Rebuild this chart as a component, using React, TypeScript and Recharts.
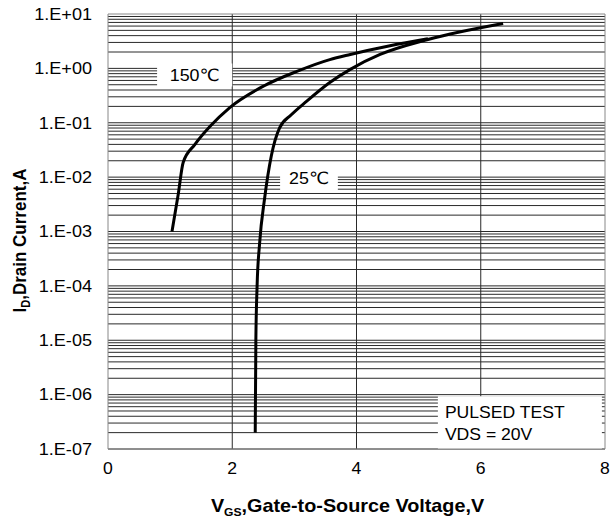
import React from 'react';
import {
  ComposedChart,
  Line,
  XAxis,
  YAxis,
  CartesianGrid,
  ReferenceArea,
  ReferenceLine,
  Label,
} from 'recharts';

// ---- data ----
const vgs150 = [1.03, 1.13, 1.21, 1.4, 1.64, 1.96, 2.5, 3.04, 3.57, 3.9, 4.54, 5.15];
const id150 = [1e-3, 4.8e-3, 1.86e-2, 4e-2, 8.5e-2, 0.19, 0.47, 0.88, 1.45, 1.8, 2.6, 3.5];

const vgs25 = [2.37, 2.38, 2.4, 2.44, 2.52, 2.63, 2.76, 2.95, 3.2, 3.57, 3.9, 4.38, 5.15, 6.36];
const id25 = [2e-7, 1e-5, 1e-4, 6e-4, 4e-3, 2.5e-2, 8e-2, 0.14, 0.25, 0.55, 0.96, 1.8, 3.4, 6.7];

const xTicks = [0, 2, 4, 6, 8];
const yTicks = [1e-7, 1e-6, 1e-5, 1e-4, 1e-3, 1e-2, 1e-1, 1, 10];
const yTickLabels = ['1.E-07', '1.E-06', '1.E-05', '1.E-04', '1.E-03', '1.E-02', '1.E-01', '1.E+00', '1.E+01'];

const gridMultipliers = [1, 2, 3, 4, 5, 6, 7, 8, 9];
const gridDecades = [-7, -6, -5, -4, -3, -2, -1, 0];
const gridValues = gridDecades.flatMap((d) => gridMultipliers.map((m) => m * Math.pow(10, d)));
const verticalGrid = [2, 4, 6];

const data150 = vgs150.map((v, i) => ({ x: v, y: id150[i] }));
const data25 = vgs25.map((v, i) => ({ x: v, y: id25[i] }));

const FONT = '"Liberation Sans", Arial, "DejaVu Sans", sans-serif';
const SX = 1.1;

const YTick = (props: any) => {
  const { x, y, payload } = props;
  const i = yTicks.findIndex((t) => Math.abs(Math.log10(t) - Math.log10(payload.value)) < 1e-6);
  return (
    <g transform={`translate(${x},${y})`}>
      <text transform={`scale(1.13,1)`} textAnchor="end" dy="0.36em" fontSize={16} fontFamily={FONT} fill="#000">
        {i >= 0 ? yTickLabels[i] : ''}
      </text>
    </g>
  );
};

const XTick = (props: any) => {
  const { x, y, payload } = props;
  return (
    <g transform={`translate(${x},${y})`}>
      <text transform={`scale(${SX},1)`} textAnchor="middle" dy="0.71em" fontSize={16} fontFamily={FONT} fill="#000">
        {payload.value}
      </text>
    </g>
  );
};

const boxLabel = (text: string) => (p: any) => {
  const vb = p.viewBox || {};
  const cx = vb.x + vb.width / 2;
  const cy = vb.y + vb.height / 2;
  return (
    <g transform={`translate(${cx},${cy})`}>
      <text transform={`scale(1.05,1)`} textAnchor="middle" dy="0.36em" fontSize={17} fontFamily={FONT} fill="#000">
        {text}
      </text>
    </g>
  );
};

const pulsedLabel = (p: any) => {
  const vb = p.viewBox || {};
  return (
    <g transform={`translate(${vb.x + 7},${vb.y})`}>
      <text transform={`scale(${SX},1)`} fontSize={16} fontFamily={FONT} fill="#000">
        <tspan x={0} y={22}>PULSED TEST</tspan>
        <tspan x={0} y={44}>VDS = 20V</tspan>
      </text>
    </g>
  );
};

const xTitle = (p: any) => {
  const vb = p.viewBox || {};
  const cx = vb.x + vb.width / 2 - 9;
  const by = vb.y + 63;
  return (
    <g transform={`translate(${cx},${by})`}>
      <text transform={`scale(${SX},1)`} textAnchor="middle" fontSize={18} fontWeight="bold" fontFamily={FONT} fill="#000">
        <tspan>V</tspan>
        <tspan fontSize={11} dy={4}>GS</tspan>
        <tspan dy={-4}>,Gate-to-Source Voltage,V</tspan>
      </text>
    </g>
  );
};

const yTitle = (p: any) => {
  const vb = p.viewBox || {};
  const cy = vb.y + vb.height / 2 + 9;
  return (
    <g transform={`translate(26,${cy}) scale(${SX},1) rotate(-90)`}>
      <text textAnchor="middle" fontSize={17} fontWeight="bold" fontFamily={FONT} fill="#000">
        <tspan>I</tspan>
        <tspan fontSize={11} dy={4}>D</tspan>
        <tspan dy={-4}>,Drain Current,A</tspan>
      </text>
    </g>
  );
};

const applyScale = (s: any, v: number): number | null => {
  if (!s) return null;
  if (typeof s === 'function') return s(v);
  if (typeof s.map === 'function') return s.map(v);
  if (typeof s.scale === 'function') return s.scale(v);
  return null;
};

const Y_MIN = 1e-7;
const Y_MAX = 10;

const hGen = (props: any) => {
  const s = props?.yAxis?.scale;
  const off = props?.offset || {};
  return gridValues.map((v) => {
    const r = applyScale(s, v);
    if (typeof r === 'number' && isFinite(r)) return r;
    const t = (Math.log10(v) - Math.log10(Y_MIN)) / (Math.log10(Y_MAX) - Math.log10(Y_MIN));
    return off.top + off.height * (1 - t);
  });
};
const vGen = (props: any) => {
  const s = props?.xAxis?.scale;
  const off = props?.offset || {};
  return verticalGrid.map((v) => {
    const r = applyScale(s, v);
    if (typeof r === 'number' && isFinite(r)) return r;
    return off.left + (off.width * v) / 8;
  });
};

export default function App() {
  return (
    <div style={{ position: 'absolute', left: 0, top: 0, width: 611, height: 523, background: '#fff' }}>
      <ComposedChart width={611} height={523} margin={{ top: 14, right: 6, bottom: 0, left: 0 }}>
        <CartesianGrid
          horizontalCoordinatesGenerator={hGen}
          verticalCoordinatesGenerator={vGen}
          stroke="#2a2a2a"
          strokeWidth={1}
        />
        <XAxis
          type="number"
          dataKey="x"
          domain={[0, 8]}
          ticks={xTicks}
          allowDataOverflow
          height={74}
          axisLine={{ stroke: '#888' }}
          tickLine={{ stroke: 'none' }}
          tickSize={12}
          tickMargin={2}
          tick={<XTick />}
        >
          <Label content={xTitle} />
        </XAxis>
        <YAxis
          type="number"
          dataKey="y"
          scale="log"
          domain={[Y_MIN, Y_MAX]}
          ticks={yTicks}
          allowDataOverflow
          width={108}
          axisLine={{ stroke: '#888' }}
          tickLine={{ stroke: 'none' }}
          tickSize={14}
          tickMargin={2}
          tick={<YTick />}
        >
          <Label content={yTitle} />
        </YAxis>
        <ReferenceLine y={10} stroke="#888" />
        <ReferenceLine x={8} stroke="#888" />
        <ReferenceArea x1={0.79} x2={2.0} y1={0.464} y2={1.23} fill="#fff" fillOpacity={1} stroke="none" label={boxLabel('150℃')} />
        <ReferenceArea x1={2.77} x2={3.7} y1={0.00546} y2={0.0171} fill="#fff" fillOpacity={1} stroke="none" label={boxLabel('25℃')} />
        <ReferenceArea x1={5.31} x2={7.95} y1={1e-7} y2={9.3e-7} fill="#fff" fillOpacity={1} stroke="none" label={pulsedLabel} />
        <Line data={data150} dataKey="y" type="monotone" stroke="#000" strokeWidth={3} dot={false} isAnimationActive={false} />
        <Line data={data25} dataKey="y" type="monotone" stroke="#000" strokeWidth={3} dot={false} isAnimationActive={false} />
      </ComposedChart>
    </div>
  );
}
